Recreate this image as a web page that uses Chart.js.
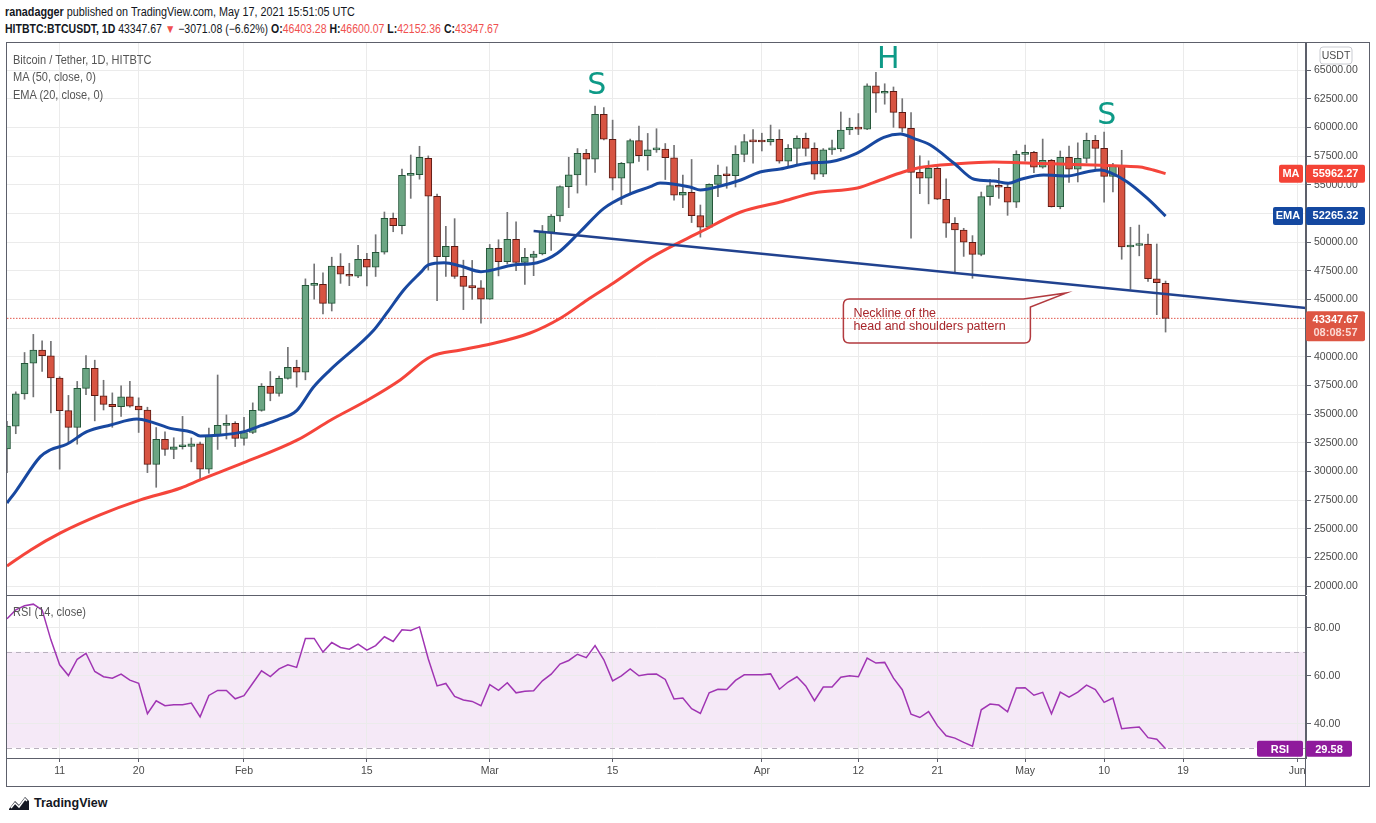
<!DOCTYPE html>
<html>
<head>
<meta charset="utf-8">
<script src="https://cdn.jsdelivr.net/npm/chart.js@4.4.1/dist/chart.umd.min.js"></script>
<style>
  body { margin: 0; background: #fff; width: 1376px; height: 823px; overflow: hidden; position: relative;
         font-family: "Liberation Sans", Arial, sans-serif; color: #131722; }
  .abs { position: absolute; }
  #frame { left: 6px; top: 42px; width: 1364px; height: 745px; border: 1px solid #5d606b; box-sizing: border-box; }
  #sep { left: 6px; top: 595px; width: 1300px; height: 1px; background: #5d606b; }
  #axisLine { left: 1305px; top: 42px; width: 1px; height: 745px; background: #5d606b; }
  #corner { left: 1306px; top: 759px; width: 62px; height: 27px; background: #fff; }
  #pricePane { left: 0; top: 43px; width: 1376px; height: 552px; }
  #rsiPane { left: 0; top: 596px; width: 1376px; height: 190px; }
  .hdr { left: 5px; font-size: 12px; white-space: nowrap; transform: scaleX(0.9); transform-origin: 0 0; }
  .red { color: #f0504f; }
  .legend { left: 13px; font-size: 12px; color: #555; white-space: nowrap; transform: scaleX(0.92); transform-origin: 0 0; }
  #brand { left: 8px; top: 795px; font-size: 12.5px; font-weight: bold; color: #131722; display: flex; align-items: center; gap: 4px; }
</style>
</head>
<body>
<div class="abs hdr" style="top:5px"><b>ranadagger</b> published on TradingView.com, May 17, 2021 15:51:05 UTC</div>
<div class="abs hdr" style="top:22px; transform: scaleX(0.875)"><b>HITBTC:BTCUSDT, 1D</b> 43347.67 <span class="red">▼</span> −3071.08 (−6.62%) <b>O:</b><span class="red">46403.28</span> <b>H:</b><span class="red">46600.07</span> <b>L:</b><span class="red">42152.36</span> <b>C:</b><span class="red">43347.67</span></div>

<div id="pricePane" class="abs"><canvas id="price"></canvas></div>
<div id="rsiPane" class="abs"><canvas id="rsi"></canvas></div>
<div id="corner" class="abs"></div>
<div id="frame" class="abs"></div>
<div id="sep" class="abs"></div>
<div id="axisLine" class="abs"></div>

<div class="abs legend" style="top:53px">Bitcoin / Tether, 1D, HITBTC</div>
<div class="abs legend" style="top:70px">MA (50, close, 0)</div>
<div class="abs legend" style="top:88px">EMA (20, close, 0)</div>
<div class="abs legend" style="top:605px">RSI (14, close)</div>

<div id="brand" class="abs">
  <svg width="22" height="16" viewBox="0 0 22 16">
    <path d="M1 14 L7 6 L11 10 L17 2 L21 6 L21 15 L1 15 Z" fill="#131722"/>
    <path d="M3 13 L7 8 L11 12 L17 4 L19 6" stroke="#fff" stroke-width="1.5" fill="none"/>
  </svg>
  <span>TradingView</span>
</div>

<script>
// daily candles, index 0 = Jan 5 2021 ... index 132 = May 17 2021
const opens = [
  31970, 33950, 36770, 39430, 40580, 40090, 38150, 35300, 33850, 37250,
  39000, 36600, 35850, 35650, 36500, 35700, 35360, 30620, 32800, 31930,
  32150, 32190, 32400, 30190, 33120, 34020, 34200, 32890, 33400, 35330,
  37420, 36800, 38120, 39080, 38650, 46230, 46320, 44660, 47910, 47190,
  47020, 48500, 47810, 49110, 52070, 51430, 55820, 55870, 57300, 53990,
  48730, 49630, 47010, 46200, 46000, 45010, 49460, 48290, 50240, 48230,
  48670, 48960, 50850, 52270, 54830, 55850, 57740, 57220, 61140, 58960,
  55560, 56870, 58840, 57530, 58030, 58100, 57350, 54080, 54340, 52300,
  51290, 55030, 55820, 55780, 57640, 58750, 58740, 58720, 58950, 57050,
  58170, 59040, 58170, 55910, 58030, 58120, 59770, 60010, 59840, 63610,
  62970, 63150, 61310, 59920, 56080, 55560, 56430, 53730, 51640, 51050,
  49980, 48930, 53960, 54920, 54780, 53470, 57650, 57820, 56520, 57130,
  53090, 57390, 56350, 57300, 58870, 58170, 55730, 56600, 49570, 49700,
  49830, 46800, 46403
];
const highs = [
  34360, 36940, 40370, 41950, 41380, 41350, 38260, 36630, 37850, 40100,
  39700, 37950, 36850, 37470, 37850, 36420, 35600, 33830, 33460, 32940,
  34800, 32920, 32560, 33780, 38410, 34930, 34340, 34720, 35980, 37660,
  38710, 38310, 40820, 39700, 46790, 48090, 47310, 48680, 48990, 48150,
  49710, 49010, 50640, 52620, 52530, 56370, 57590, 58350, 57510, 54180,
  51370, 52040, 48420, 48400, 46640, 49790, 50200, 52590, 51770, 49450,
  49200, 51450, 52400, 54900, 57390, 58150, 58080, 61860, 61720, 60630,
  56940, 58980, 60100, 59470, 59880, 58590, 58430, 55830, 57200, 53230,
  55070, 56700, 56560, 58400, 59370, 59800, 59490, 60200, 59790, 58500,
  59250, 59500, 58650, 58150, 58900, 61340, 60800, 61200, 63800, 64800,
  63800, 63520, 62500, 61290, 57520, 57080, 56760, 55520, 52130, 51200,
  50560, 54360, 55460, 56430, 55200, 57960, 58460, 57910, 58980, 57200,
  57940, 58360, 58650, 59500, 59300, 59590, 56860, 58000, 51290, 51480,
  50700, 49830, 46600
];
const lows = [
  29900, 33290, 36300, 36500, 38720, 35110, 30200, 32530, 32380, 36700,
  34410, 35360, 33850, 34800, 35600, 33400, 29900, 28620, 31390, 31110,
  31950, 30840, 29240, 29840, 31920, 32830, 32170, 32300, 33300, 35250,
  36160, 36570, 38050, 37350, 37990, 45020, 43730, 43990, 46400, 46200,
  46900, 46170, 47000, 48950, 50900, 50710, 53810, 55480, 47560, 44890,
  47000, 46830, 44110, 45000, 42920, 45000, 47050, 48100, 47500, 46300,
  47070, 48880, 49270, 51790, 53000, 54270, 54960, 56080, 58900, 54540,
  53270, 54120, 57020, 56270, 57820, 55450, 53650, 53000, 51700, 50430,
  51200, 53950, 54690, 54800, 57000, 56870, 57940, 58450, 56880, 56480,
  56820, 57500, 55470, 55700, 57650, 57900, 59370, 59370, 59800, 61300,
  62020, 60000, 59580, 50330, 54220, 53330, 53700, 50400, 47270, 48750,
  46840, 48800, 53220, 53810, 52330, 53010, 57050, 56040, 56440, 53050,
  52900, 55200, 55240, 56900, 56240, 53470, 54370, 48500, 45880, 48800,
  46560, 43670, 42152
];
const closes = [
  33950, 36770, 39430, 40580, 40090, 38150, 35300, 33850, 37250, 39000,
  36600, 35850, 35650, 36500, 35700, 35360, 30620, 32800, 31930, 32150,
  32190, 32400, 30190, 33120, 34020, 34200, 32890, 33400, 35330, 37420,
  36800, 38120, 39080, 38650, 46230, 46320, 44660, 47910, 47190, 47020,
  48500, 47810, 49110, 52070, 51430, 55820, 55870, 57390, 53990, 48730,
  49630, 47010, 46140, 46000, 45010, 49460, 48290, 50240, 48230, 48670,
  48960, 50850, 52270, 54830, 55850, 57740, 57220, 61140, 58960, 55560,
  56870, 58840, 57530, 58030, 58100, 57350, 54080, 54340, 52300, 51290,
  55030, 55820, 55780, 57640, 58750, 58740, 58720, 58950, 57050, 58170,
  59040, 58170, 55910, 58030, 58120, 59770, 60010, 59840, 63610, 62970,
  63150, 61310, 59920, 56080, 55560, 56430, 53730, 51640, 51050, 49980,
  48930, 53960, 54920, 54780, 53470, 57650, 57820, 56520, 57130, 53090,
  57390, 56350, 57300, 58870, 58170, 55730, 56600, 49570, 49680, 49860,
  46800, 46450, 43347.67
];

// MA 50 and EMA 20 at day positions
const maDays = [0, 2.7, 6.1, 10.6, 15.2, 19.8, 22, 26.9, 33.1, 36.9, 41.1, 44.8, 48.2, 51.7, 55.1, 59.6, 63.1, 66.1, 69.1, 73.3, 79, 83.6, 88.1, 91.9, 96.9, 99.5, 102.1, 104.4, 107.9, 112.4, 116.2, 120, 123.8, 126.8, 129.1, 130.6, 132];
const maValues = [21760, 23160, 24640, 26210, 27520, 28560, 29260, 30740, 32750, 34490, 36230, 37980, 39980, 40590, 41110, 42070, 43380, 44950, 46430, 48610, 50880, 52620, 53490, 54280, 54710, 55410, 56110, 56540, 56800, 56980, 56890, 56800, 56720, 56630, 56540, 56280, 55962.27];
const emaDays = [0, 1.1, 3.8, 4.9, 6.8, 9.1, 11.8, 14.8, 16.5, 18.6, 21.1, 22, 24, 27, 28.9, 30.8, 33, 34.9, 36.8, 41.8, 43.3, 45.2, 47.1, 48, 49.8, 51.7, 54, 57.7, 60.4, 62.7, 65.3, 68, 70.7, 73.3, 74.4, 77.8, 79, 81.3, 83.6, 85.8, 88.1, 91.2, 93.8, 96.8, 99.9, 101.8, 103.3, 105.2, 107.9, 110.2, 112.4, 114.1, 115.5, 118.1, 120.8, 123.1, 124.6, 125.7, 127.6, 129.9, 132];
const emaValues = [27250, 28380, 31290, 31870, 32370, 33470, 34050, 34570, 34300, 33760, 33410, 33090, 33150, 33470, 33990, 34500, 35300, 37340, 38840, 42330, 43840, 45820, 47330, 48000, 48200, 47910, 47420, 48000, 48200, 49020, 50900, 52940, 54100, 54830, 55150, 54800, 54540, 54890, 55410, 56110, 56370, 56870, 57010, 57740, 59130, 59420, 59040, 58460, 56870, 55470, 55320, 55120, 55470, 55840, 55760, 56130, 56280, 56050, 55260, 53820, 52265.32];

// RSI 14, one value per candle
const rsiValues = [
  83.8, 87.5, 89.2, 89.9, 87.5, 75.0, 64.6, 60.1, 66.9, 69.4,
  61.8, 59.6, 59.0, 60.7, 58.2, 56.9, 44.2, 49.6, 47.5, 47.9,
  47.9, 48.6, 42.9, 51.8, 53.9, 53.9, 50.4, 51.7, 56.9, 62.1,
  59.7, 62.9, 64.6, 63.5, 75.6, 75.6, 69.9, 73.9, 71.8, 71.1,
  73.2, 70.7, 72.6, 76.3, 74.3, 79.2, 78.9, 80.4, 67.0, 55.8,
  56.8, 51.4, 49.9, 49.3, 47.5, 56.3, 53.9, 57.1, 52.9, 53.6,
  53.8, 57.9, 60.7, 64.9, 66.4, 69.0, 67.6, 72.6, 66.7, 57.9,
  60.0, 62.9, 60.0, 60.6, 60.7, 58.5, 50.3, 50.7, 46.3, 44.3,
  52.9, 54.4, 54.3, 58.1, 60.4, 60.4, 60.4, 60.8, 54.4, 57.4,
  59.6, 55.8, 49.6, 55.3, 55.3, 59.4, 60.0, 59.6, 67.4, 65.3,
  65.6, 59.0, 54.2, 44.0, 42.6, 45.1, 39.2, 35.0, 34.0, 32.2,
  30.6, 45.8, 48.2, 47.8, 45.0, 54.9, 55.0, 51.9, 53.1, 44.2,
  53.2, 51.1, 53.2, 56.1, 54.3, 48.9, 50.7, 37.9, 38.3, 38.6,
  34.2, 33.5, 29.58
];

// neckline drawing (day, price)
const neckDays = [60, 148];
const neckPrices = [50960, 44250];

// axis ticks
const tickDays = [6, 15, 27, 41, 55, 69, 86, 97, 106, 116, 125, 134, 147];
const tickLabels = ['11', '20', 'Feb', '15', 'Mar', '15', 'Apr', '12', '21', 'May', '10', '19', 'Jun'];
const priceTicks = [20000, 22500, 25000, 27500, 30000, 32500, 35000, 37500, 40000, 42500, 45000, 47500, 50000, 52500, 55000, 57500, 60000, 62500, 65000];
const rsiTicks = [40, 60, 80];

// pattern letters
const shoulderLabels = ['S', 'H', 'S'];
const shoulderDays = [67.2, 100.4, 125.3];
const shoulderPrices = [63600, 65870, 60990];

const FONT = '"Liberation Sans", Arial, sans-serif';
const GRID = '#ebebeb';
const AXIS = '#5d606b';
const TEXT = '#4a4a4a';
const lastClose = closes[closes.length - 1];
const lastMA = maValues[maValues.length - 1];
const lastEMA = emaValues[emaValues.length - 1];
const lastRSI = rsiValues[rsiValues.length - 1];

const idx = closes.map((_, i) => i);
const isUp = idx.map(i => closes[i] >= opens[i]);

// no automatic label padding, so the plot area fills each pane
const noPad = (s) => { s.paddingTop = 0; s.paddingBottom = 0; s.paddingLeft = 0; s.paddingRight = 0; };

function roundRect(ctx, x, y, w, h, r) {
    ctx.beginPath();
    ctx.moveTo(x + r, y);
    ctx.lineTo(x + w - r, y);
    ctx.quadraticCurveTo(x + w, y, x + w, y + r);
    ctx.lineTo(x + w, y + h - r);
    ctx.quadraticCurveTo(x + w, y + h, x + w - r, y + h);
    ctx.lineTo(x + r, y + h);
    ctx.quadraticCurveTo(x, y + h, x, y + h - r);
    ctx.lineTo(x, y + r);
    ctx.quadraticCurveTo(x, y, x + r, y);
    ctx.closePath();
}

function axisTag(ctx, x0, x1, top, h, bg, lines) {
    ctx.fillStyle = bg;
    roundRect(ctx, x0, top, x1 - x0, h, 2);
    ctx.fill();
    ctx.textAlign = 'center';
    ctx.textBaseline = 'middle';
    lines.forEach((l, k) => {
        ctx.fillStyle = l.color || '#fff';
        ctx.font = 'bold 11px ' + FONT;
        ctx.fillText(l.text, (x0 + x1) / 2, top + 9 + k * 13);
    });
}

// extra drawing on the price pane: letters, callout, axis labels
const priceOverlay = {
    id: 'priceOverlay',
    afterDraw(chart) {
        const { ctx, scales: { x, y } } = chart;
        ctx.save();

        ctx.fillStyle = '#0e9a87';
        ctx.font = '30px "DejaVu Sans", sans-serif';
        ctx.textAlign = 'center';
        ctx.textBaseline = 'middle';
        shoulderLabels.forEach((t, i) => {
            ctx.fillText(t, x.getPixelForValue(shoulderDays[i]), y.getPixelForValue(shoulderPrices[i]));
        });

        // callout pointing at the neckline
        const tx = x.getPixelForValue(120.7), ty = y.getPixelForValue(45560);
        const L = tx - 223, R = tx - 36, T = ty + 6, B = ty + 50, r = 6;
        ctx.beginPath();
        ctx.moveTo(L + r, T);
        ctx.lineTo(tx - 43, T);
        ctx.lineTo(tx, ty);
        ctx.lineTo(R, ty + 14);
        ctx.lineTo(R, B - r);
        ctx.quadraticCurveTo(R, B, R - r, B);
        ctx.lineTo(L + r, B);
        ctx.quadraticCurveTo(L, B, L, B - r);
        ctx.lineTo(L, T + r);
        ctx.quadraticCurveTo(L, T, L + r, T);
        ctx.closePath();
        ctx.strokeStyle = '#b23a3f';
        ctx.lineWidth = 1.5;
        ctx.stroke();
        ctx.fillStyle = '#a8262b';
        ctx.font = '12.5px ' + FONT;
        ctx.textAlign = 'left';
        ctx.textBaseline = 'middle';
        ctx.fillText('Neckline of the', L + 10, ty + 21);
        ctx.fillText('head and shoulders pattern', L + 10, ty + 34);

        // USDT box
        ctx.fillStyle = '#fff';
        roundRect(ctx, 1320, 4, 32, 17, 3);
        ctx.fill();
        ctx.strokeStyle = '#c9cbd1';
        ctx.lineWidth = 1;
        ctx.stroke();
        ctx.fillStyle = TEXT;
        ctx.font = '10.5px ' + FONT;
        ctx.textAlign = 'center';
        ctx.fillText('USDT', 1336, 13);

        // MA / EMA / last price labels
        const yMA = y.getPixelForValue(lastMA);
        axisTag(ctx, 1279, 1303, yMA - 9, 18, '#f44336', [{ text: 'MA' }]);
        axisTag(ctx, 1306, 1365, yMA - 9, 18, '#f44336', [{ text: lastMA.toFixed(2) }]);
        const yEMA = y.getPixelForValue(lastEMA);
        axisTag(ctx, 1273, 1303, yEMA - 9, 18, '#1448a0', [{ text: 'EMA' }]);
        axisTag(ctx, 1306, 1365, yEMA - 9, 18, '#1448a0', [{ text: lastEMA.toFixed(2) }]);
        const yP = y.getPixelForValue(lastClose);
        axisTag(ctx, 1306, 1365, yP - 7, 30, '#dd5643', [{ text: lastClose.toFixed(2) }, { text: '08:08:57', color: '#fbd9d3' }]);

        ctx.restore();
    }
};

new Chart(document.getElementById('price'), {
    type: 'bar',
    data: {
        datasets: [
            {
                type: 'line', label: 'Neckline',
                data: neckDays.map((d, i) => ({ x: d, y: neckPrices[i] })),
                borderColor: '#21428f', borderWidth: 2.5, pointRadius: 0, order: 0,
            },
            {
                type: 'line', label: 'EMA 20',
                data: emaDays.map((d, i) => ({ x: d, y: emaValues[i] })),
                borderColor: '#1848a0', borderWidth: 3, pointRadius: 0,
                cubicInterpolationMode: 'monotone', order: 1,
            },
            {
                type: 'line', label: 'MA 50',
                data: maDays.map((d, i) => ({ x: d, y: maValues[i] })),
                borderColor: '#f5453b', borderWidth: 3, pointRadius: 0,
                cubicInterpolationMode: 'monotone', order: 1,
            },
            {
                label: 'Bodies',
                data: idx.map(i => ({ x: i, y: [opens[i], closes[i]] })),
                backgroundColor: isUp.map(u => u ? '#6ba583' : '#d75442'),
                borderColor: isUp.map(u => u ? '#225437' : '#5b1a13'),
                borderWidth: 1, borderSkipped: false, barThickness: 7, minBarLength: 2,
                grouped: false, order: 2,
            },
            {
                label: 'Wicks',
                data: idx.map(i => ({ x: i, y: [lows[i], highs[i]] })),
                backgroundColor: '#737375', barThickness: 1, grouped: false, order: 3,
            },
            {
                type: 'line', label: 'Last',
                data: [{ x: 0, y: lastClose }, { x: 148, y: lastClose }],
                borderColor: '#e2574c', borderWidth: 1, borderDash: [1.5, 1.5], pointRadius: 0, order: 4,
            },
        ],
    },
    options: {
        responsive: true,
        maintainAspectRatio: false,
        animation: false,
        layout: { autoPadding: false, padding: { left: 7, right: 7, top: 0, bottom: 0 } },
        plugins: { legend: { display: false }, tooltip: { enabled: false } },
        scales: {
            x: {
                type: 'linear', min: 0, max: 148, offset: false,
                grid: { color: GRID, drawTicks: false, offset: false },
                border: { display: false },
                ticks: { display: false },
                afterBuildTicks: (s) => { s.ticks = tickDays.map(v => ({ value: v })); },
                afterFit: (s) => { s.height = 0; noPad(s); },
            },
            y: {
                position: 'right', min: 19229, max: 67354,
                grid: { color: GRID, tickLength: 5, tickColor: AXIS },
                border: { color: AXIS },
                ticks: { color: TEXT, padding: 3, font: { size: 10.5, family: FONT }, callback: (v) => v.toFixed(2) },
                afterBuildTicks: (s) => { s.ticks = priceTicks.map(v => ({ value: v })); },
                afterFit: (s) => { s.width = 63; noPad(s); },
            },
        },
    },
    plugins: [priceOverlay],
});

// RSI band, dashed limits and value tag
const rsiOverlay = {
    id: 'rsiOverlay',
    beforeDraw(chart) {
        const { ctx, chartArea, scales: { y } } = chart;
        const y70 = y.getPixelForValue(70), y30 = y.getPixelForValue(30);
        ctx.save();
        ctx.fillStyle = 'rgba(156, 39, 176, 0.1)';
        ctx.fillRect(chartArea.left, y70, chartArea.right - chartArea.left, y30 - y70);
        ctx.restore();
    },
    beforeDatasetsDraw(chart) {
        const { ctx, chartArea, scales: { y } } = chart;
        ctx.save();
        ctx.strokeStyle = '#b8b0bd';
        ctx.lineWidth = 1;
        ctx.setLineDash([5, 4]);
        [70, 30].forEach(v => {
            const py = Math.round(y.getPixelForValue(v)) + 0.5;
            ctx.beginPath();
            ctx.moveTo(chartArea.left, py);
            ctx.lineTo(chartArea.right, py);
            ctx.stroke();
        });
        ctx.restore();
    },
    afterDraw(chart) {
        const { ctx, scales: { y } } = chart;
        const py = y.getPixelForValue(lastRSI);
        ctx.save();
        axisTag(ctx, 1257, 1303, py - 8, 16, '#8f1a9c', [{ text: 'RSI' }]);
        axisTag(ctx, 1306, 1352, py - 8, 16, '#8f1a9c', [{ text: lastRSI.toFixed(2) }]);
        ctx.restore();
    }
};

new Chart(document.getElementById('rsi'), {
    type: 'line',
    data: {
        datasets: [{
            label: 'RSI',
            data: idx.map(i => ({ x: i, y: rsiValues[i] })),
            borderColor: '#a035b3', borderWidth: 1.5, pointRadius: 0, tension: 0,
        }],
    },
    options: {
        responsive: true,
        maintainAspectRatio: false,
        animation: false,
        layout: { autoPadding: false, padding: { left: 7, right: 7, top: 0, bottom: 0 } },
        plugins: { legend: { display: false }, tooltip: { enabled: false } },
        scales: {
            x: {
                type: 'linear', min: 0, max: 148,
                grid: { color: GRID, tickLength: 4, tickColor: AXIS },
                border: { color: AXIS },
                ticks: {
                    color: TEXT, padding: 3, maxRotation: 0, autoSkip: false,
                    font: { size: 10.5, family: FONT },
                    callback: (v) => tickLabels[tickDays.indexOf(v)],
                },
                afterBuildTicks: (s) => { s.ticks = tickDays.map(v => ({ value: v })); },
                afterFit: (s) => { s.height = 28; noPad(s); },
            },
            y: {
                position: 'right', min: 25.7, max: 93.3,
                grid: { color: GRID, tickLength: 5, tickColor: AXIS },
                border: { color: AXIS },
                ticks: { color: TEXT, padding: 3, font: { size: 10.5, family: FONT }, callback: (v) => v.toFixed(2) },
                afterBuildTicks: (s) => { s.ticks = rsiTicks.map(v => ({ value: v })); },
                afterFit: (s) => { s.width = 63; noPad(s); },
            },
        },
    },
    plugins: [rsiOverlay],
});
</script>
</body>
</html>
